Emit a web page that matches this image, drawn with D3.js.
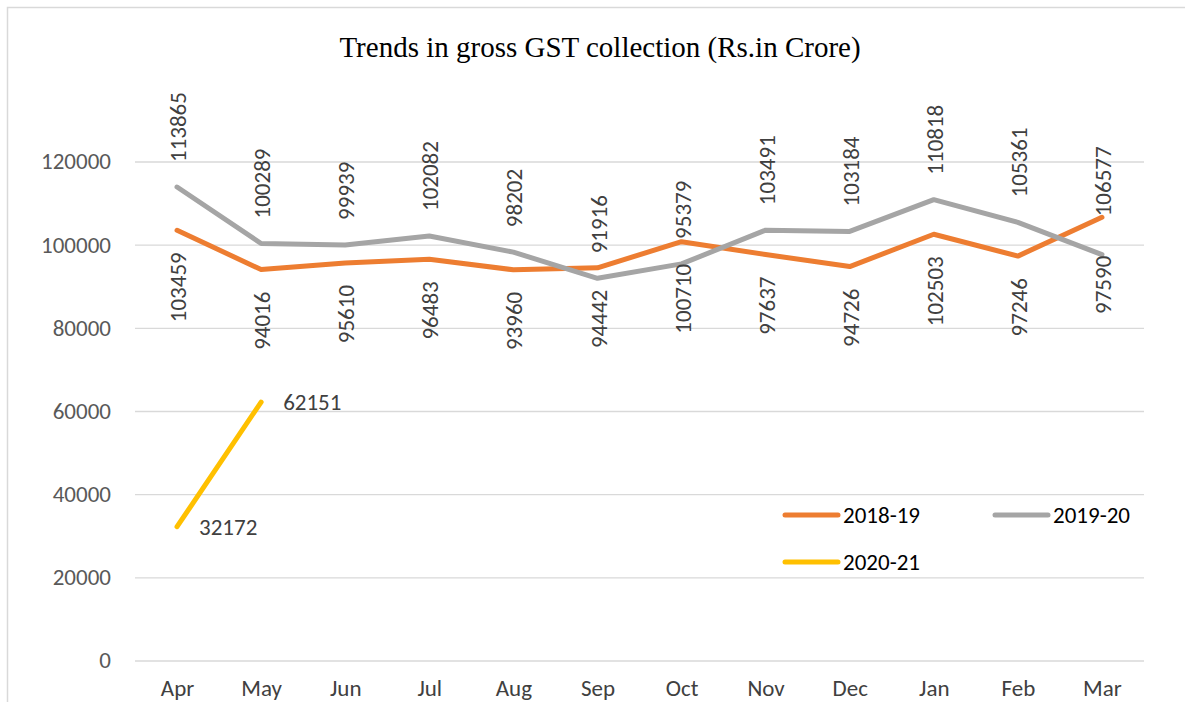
<!DOCTYPE html>
<html>
<head>
<meta charset="utf-8">
<script src="https://cdn.jsdelivr.net/npm/d3@7"></script>
<style>
  body { margin: 0; background: #fff; }
  svg { display: block; }
  text { font-family: Carlito, Calibri, "Open Sans", sans-serif; }
</style>
</head>
<body>
<svg id="chart" width="1185" height="702"></svg>
<script>
const months = ["Apr", "May", "Jun", "Jul", "Aug", "Sep", "Oct", "Nov", "Dec", "Jan", "Feb", "Mar"];
const gst1819 = [103459, 94016, 95610, 96483, 93960, 94442, 100710, 97637, 94726, 102503, 97246, 106577];
const gst1920 = [113865, 100289, 99939, 102082, 98202, 91916, 95379, 103491, 103184, 110818, 105361, 97590];
const gst2021 = [32172, 62151];
const yTicks = [0, 20000, 40000, 60000, 80000, 100000, 120000];

const series = [
  { name: "2018-19", values: gst1819, color: "#ED7D31", label: "below" },
  { name: "2019-20", values: gst1920, color: "#A5A5A5", label: "above" },
  { name: "2020-21", values: gst2021, color: "#FFC000", label: "right" },
];

const fontSize = "23px";
const svg = d3.select("#chart");

// chart area border
svg.append("rect")
  .attr("x", 7.5).attr("y", 7.5)
  .attr("width", 1200).attr("height", 720)
  .attr("fill", "none").attr("stroke", "#d9d9d9").attr("stroke-width", 1.5);

const x = d3.scalePoint().domain(months).range([135, 1144]).padding(0.5);
const y = d3.scaleLinear().domain([0, 120000]).range([660.5, 161.5]);

svg.append("text")
  .attr("x", 600).attr("y", 57)
  .attr("text-anchor", "middle")
  .style("font-family", "'Liberation Serif', 'Times New Roman', serif")
  .style("font-size", "29px")
  .attr("fill", "#000")
  .text("Trends in gross GST collection (Rs.in Crore)");

// gridlines + y labels
const yAxis = svg.append("g")
  .attr("transform", "translate(135,0)")
  .call(d3.axisLeft(y).tickValues(yTicks).tickSize(-1009).tickPadding(24).tickFormat(d3.format("d")));
yAxis.select(".domain").remove();
yAxis.selectAll("line").attr("stroke", "#d9d9d9").attr("stroke-width", 1.3);
yAxis.selectAll("text").attr("fill", "#595959").style("font-size", fontSize)
  .style("font-family", "Carlito, Calibri, 'Open Sans', sans-serif");

const xAxis = svg.append("g")
  .attr("transform", "translate(0,660.5)")
  .call(d3.axisBottom(x).tickSize(0).tickPadding(19));
xAxis.select(".domain").remove();
xAxis.selectAll("text").attr("fill", "#404040").style("font-size", fontSize)
  .style("font-family", "Carlito, Calibri, 'Open Sans', sans-serif");

const line = d3.line().x((d, i) => x(months[i])).y(d => y(d));

series.forEach(s => {
  svg.append("path")
    .attr("d", line(s.values))
    .attr("fill", "none")
    .attr("stroke", s.color)
    .attr("stroke-width", 5)
    .attr("stroke-linejoin", "round")
    .attr("stroke-linecap", "round");
});

// data labels
series.forEach(s => {
  s.values.forEach((v, i) => {
    const px = x(months[i]), py = y(v);
    let side = s.label;
    const last = i === months.length - 1;
    // the last month's labels were swapped and pulled onto the points
    if (last && side === "above") side = "below";
    else if (last && side === "below") side = "above";
    const gap = last ? 1 : (side === "above" ? 25 : 22);
    const t = svg.append("text")
      .attr("fill", "#404040")
      .style("font-size", fontSize)
      .text(v);
    if (side === "right") {
      t.attr("x", px + 22).attr("y", py).attr("dy", "0.35em");
    } else if (side === "above") {
      t.attr("transform", `translate(${px + 1},${py - gap}) rotate(-90)`)
        .attr("text-anchor", "start").attr("dy", "0.35em");
    } else {
      t.attr("transform", `translate(${px + 1},${py + gap}) rotate(-90)`)
        .attr("text-anchor", "end").attr("dy", "0.35em");
    }
  });
});

// legend
const legendPos = [[783, 515], [993, 515], [783, 562]];
series.forEach((s, i) => {
  const [lx, ly] = legendPos[i];
  svg.append("line")
    .attr("x1", lx + 2).attr("x2", lx + 55)
    .attr("y1", ly).attr("y2", ly)
    .attr("stroke", s.color).attr("stroke-width", 5).attr("stroke-linecap", "round");
  svg.append("text")
    .attr("x", lx + 60).attr("y", ly).attr("dy", "0.35em")
    .attr("fill", "#000")
    .style("font-size", fontSize)
    .text(s.name);
});
</script>
</body>
</html>
